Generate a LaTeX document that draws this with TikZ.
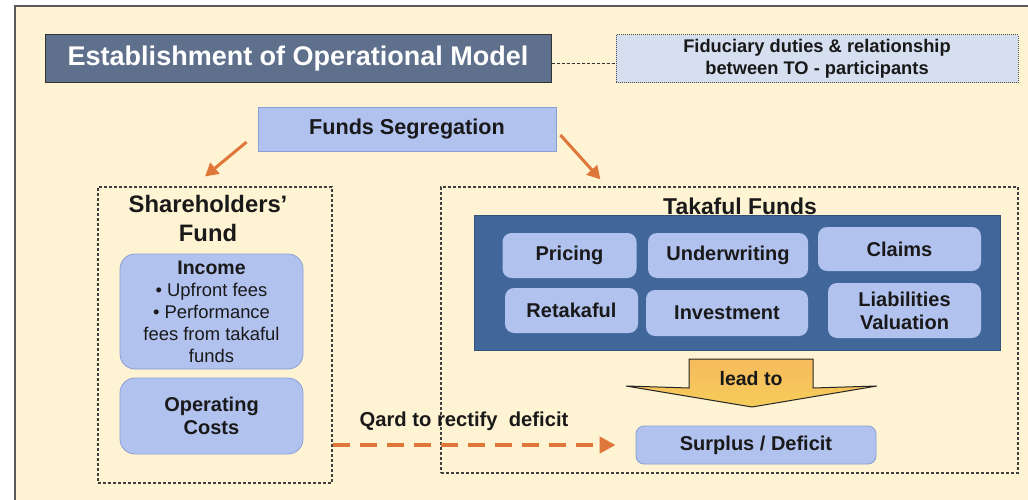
\documentclass[tikz,border=0pt]{standalone}
\usepackage{fontspec}
\setmainfont{Liberation Sans}
\usetikzlibrary{arrows.meta,calc}

\definecolor{cream}{HTML}{FEF3D3}
\definecolor{slate}{HTML}{5F708C}
\definecolor{paleblue}{HTML}{D5DFEF}
\definecolor{periwinkle}{HTML}{B2C2EF}
\definecolor{periedge}{HTML}{8C9ED6}
\definecolor{steel}{HTML}{41679A}
\definecolor{burnt}{HTML}{E0773A}
\definecolor{amber}{HTML}{F5C36A}

\begin{document}
\begin{tikzpicture}[x=1pt,y=-1pt,
		every node/.style={text=black!90, inner sep=0pt, align=center},
		titlebox/.style={draw=black!80, line width=1pt, fill=slate, text=white,
			font=\bfseries\fontsize{27}{32}\selectfont},
		notebox/.style={draw=black!70, densely dotted, line width=1pt, fill=paleblue,
			font=\bfseries\fontsize{18.3}{22}\selectfont},
		segbox/.style={draw=periedge, line width=0.8pt, fill=periwinkle,
			font=\bfseries\fontsize{21.6}{26}\selectfont},
		groupbox/.style={draw=black!75, line width=1.1pt, dash pattern=on 3pt off 2pt},
		softbox/.style={draw=periedge, line width=0.8pt, fill=periwinkle, rounded corners=15pt},
		taskbox/.style={fill=periwinkle, rounded corners=9pt,
			font=\bfseries\fontsize{20}{23}\selectfont},
		orangearrow/.style={draw=burnt, line width=3pt, -{Triangle[length=13pt,width=14pt]}}]
		\useasboundingbox (0,0) rectangle (1028,500);
		\fill[white] (0,0) rectangle (1028,500);
		\fill[cream] (15,6) rectangle (1028,500);
		\draw[black!65, line width=1.5pt] (15,500) -- (15,6) -- (1028,6);
		
		% top row
		\node[titlebox, minimum width=506pt, minimum height=48pt] (title) at (298,59) {Establishment of Operational Model};
		\node[notebox, minimum width=402pt, minimum height=48pt] (fid) at (817,59) {Fiduciary duties \& relationship\\between TO - participants};
		\draw[black!80, densely dashed, line width=0.8pt] ($(title.east)+(0,4)$) -- ($(fid.west)+(0,4)$);
		
		\node[segbox, minimum width=298pt, minimum height=44pt] (seg) at (407,129) {Funds Segregation};
		
		% the two funds
		\node[groupbox, minimum width=234pt, minimum height=296pt] (shf) at (215,335) {};
		\node[groupbox, minimum width=577pt, minimum height=286pt] (tkf) at (729.5,330) {};
		
		\draw[orangearrow] ($(seg.west)+(-11,13)$) -- ($(shf.north)+(-10,-10)$);
		\draw[orangearrow] ($(seg.east)+(4,6)$) -- ($(tkf.north west)+(160,-7)$);
		
		\node[font=\bfseries\fontsize{23.8}{29}\selectfont] (shft) at (208,218) {Shareholders'\\Fund};
		\node[softbox, minimum width=183pt, minimum height=115pt, font=\fontsize{18.4}{22}\selectfont] (inc) at (211.5,311.5)
			{{\bfseries\fontsize{19.5}{22}\selectfont Income}\\• Upfront fees\\• Performance\\fees from takaful\\funds};
		\node[softbox, minimum width=183pt, minimum height=76pt, font=\bfseries\fontsize{20}{23}\selectfont] (opc) at (211.5,416) {Operating\\Costs};
		
		\node[fill=steel, draw=steel!80!black, line width=0.6pt, minimum width=526pt, minimum height=135pt] (panel) at (737,283) {};
		\node[font=\bfseries\fontsize{22.9}{27}\selectfont] (tkft) at (740,206) {Takaful Funds};
		\node[taskbox, minimum width=134pt, minimum height=45pt] (pri) at (569.5,255.5) {Pricing};
		\node[taskbox, minimum width=160pt, minimum height=45pt] (und) at (728,255.5) {Underwriting};
		\node[taskbox, minimum width=163pt, minimum height=44pt] (clm) at (899.5,249) {Claims};
		\node[taskbox, minimum width=133pt, minimum height=45pt] (ret) at (571.5,310.5) {Retakaful};
		\node[taskbox, minimum width=162pt, minimum height=46pt] (inv) at (727,313) {Investment};
		\node[taskbox, minimum width=153pt, minimum height=55pt] (lia) at (904.5,310.5) {Liabilities\\Valuation};
		
		% lead to
		\draw[black!85, line width=1pt, top color=amber!88!orange, bottom color=amber!85!yellow]
			(689,359) -- (813,359) -- (813,388) -- (877,386) -- (752,407) -- (626,386) -- (689,388) -- cycle;
		\node[font=\bfseries\fontsize{19.5}{23}\selectfont] (lead) at (751,379) {lead to};
		
		\node[taskbox, draw=periedge, line width=0.8pt, rounded corners=8pt, minimum width=240pt, minimum height=38pt] (sur) at (756,445) {Surplus / Deficit};
		
		\draw[burnt, line width=4pt, dash pattern=on 17pt off 10pt, -{Triangle[length=16pt,width=16pt]}]
			(shf.east |- sur.west) -- ($(sur.west)+(-20,0)$);
		\node[font=\bfseries\fontsize{20.2}{24}\selectfont] (qard) at (464,421) {Qard to rectify~~deficit};
	\end{tikzpicture}
\end{document}
